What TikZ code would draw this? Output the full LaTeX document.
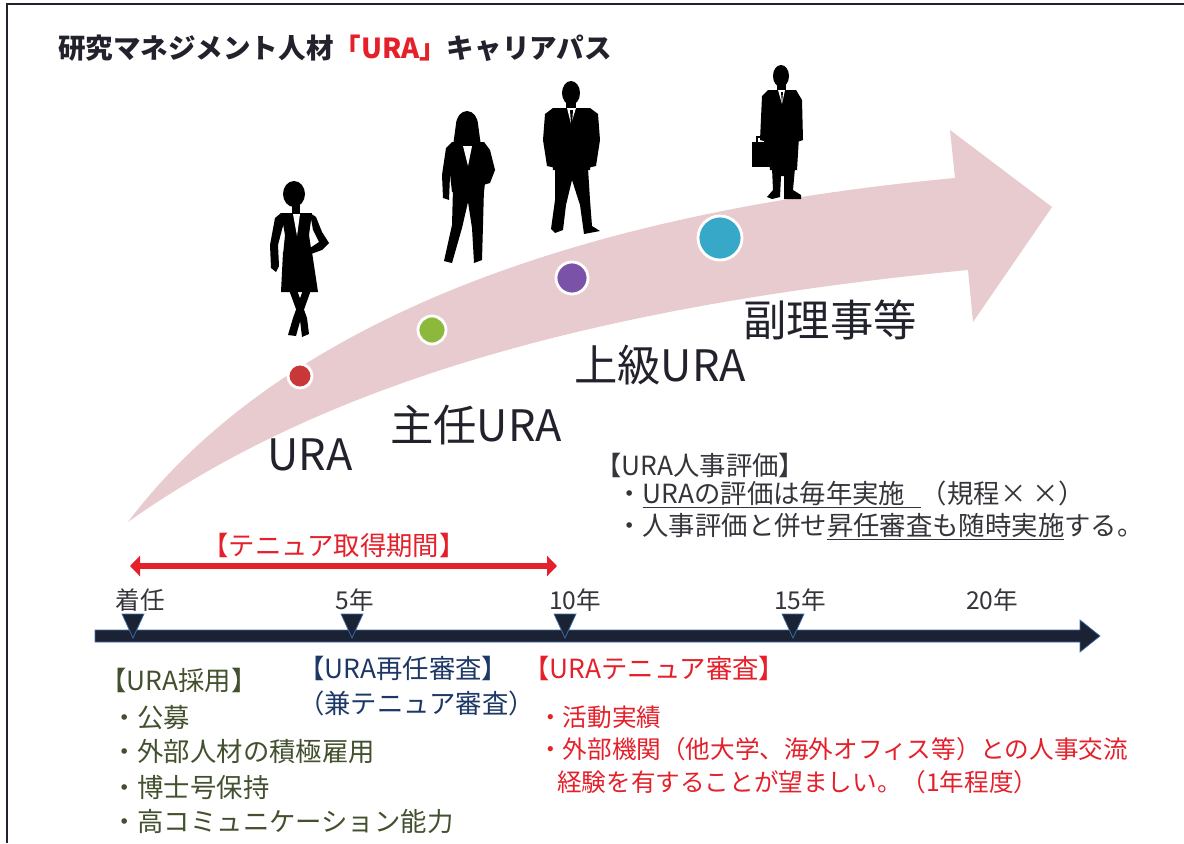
\documentclass[tikz,border=0pt]{standalone}
\usepackage{fontspec}
\setmainfont{Noto Sans CJK JP}
\usepackage{xcolor}
\usepackage{tikz}
\usetikzlibrary{arrows.meta, positioning}

\definecolor{inkdark}{RGB}{34,34,44}
\definecolor{inkgray}{RGB}{52,52,58}
\definecolor{tenurered}{RGB}{228,32,42}
\definecolor{renewnavy}{RGB}{30,56,102}
\definecolor{hireolive}{RGB}{66,80,46}
\definecolor{bandpink}{RGB}{231,203,207}
\definecolor{barnavy}{RGB}{26,34,52}
\definecolor{barblue}{RGB}{62,112,172}
\definecolor{dotred}{RGB}{200,56,56}
\definecolor{dotgreen}{RGB}{140,184,60}
\definecolor{dotpurple}{RGB}{122,82,168}
\definecolor{dotcyan}{RGB}{56,168,200}

\begin{document}
\begin{tikzpicture}[x=0.03cm, y=-0.03cm,
    stagelabel/.style={font=\fontsize{37}{40}\selectfont, text=inkdark, inner sep=0pt},
    bodytext/.style={font=\fontsize{22.5}{26}\selectfont, inner sep=0pt, anchor=west},
    smalltext/.style={font=\fontsize{21}{25}\selectfont, inner sep=0pt, anchor=west},
    yearlabel/.style={font=\fontsize{21}{25}\selectfont, text=inkgray, inner sep=0pt},
    stagedot/.style={circle, draw=white, line width=2.4pt, inner sep=0pt},
    marker/.style={fill=barnavy, draw=barblue, line width=0.6pt}]
    \useasboundingbox (0,0) rectangle (1184,843);

    % Frame edges (top and left only)
    \draw[inkdark, line width=0.9pt] (1184,4) -- (7,4) -- (7,843);

    % Title
    \node[anchor=west, inner sep=0pt, text=inkdark,
          font=\bfseries\fontsize{23.5}{26}\selectfont] (title) at (58,48)
        {研究マネジメント人材\textcolor{tenurered}{「URA」}キャリアパス};

    % Curved career arrow
    \fill[bandpink] (128,522) .. controls (250,360) and (500,220) .. (955,178)
        -- (950,130) -- (1052,207) -- (973,322) -- (968,270)
        .. controls (550,310) and (300,400) .. (128,522) -- cycle;

    % Stage dots
    \node[stagedot, fill=dotred, minimum size=0.72cm] (ura) at (300,376) {};
    \node[stagedot, fill=dotgreen, minimum size=0.84cm] (chief) at (432,330) {};
    \node[stagedot, fill=dotpurple, minimum size=0.96cm] (senior) at (572,278) {};
    \node[stagedot, fill=dotcyan, minimum size=1.32cm] (vice) at (720,238) {};

    % Stage names
    \node[stagelabel] (uralab) at (310,455) {URA};
    \node[stagelabel] (chieflab) at (476,425) {主任URA};
    \node[stagelabel] (seniorlab) at (660,365) {上級URA};
    \node[stagelabel] (vicelab) at (830,320) {副理事等};

    % Figure 1: woman in skirt suit, hand on hip
    \fill (294,194) ellipse (11 and 13);
    \fill (292,204) rectangle (300,215);
    \fill (281,213) -- (312,213) -- (309,235) -- (312,255) -- (283,255) -- (285,235) -- cycle;
    \fill (281,213) -- (275,218) -- (270,245) -- (271,268) -- (276,272) -- (279,266) -- (278,245) -- (284,222) -- cycle;
    \fill (310,213) -- (316,217) -- (322,232) -- (329,243) -- (322,250) -- (311,254) -- (310,248) -- (319,242) -- (313,230) -- cycle;
    \fill (283,252) -- (312,252) -- (318,292) -- (281,292) -- cycle;
    \fill (289,290) -- (297,290) -- (307,318) -- (309,334) -- (302,337) -- (300,320) -- cycle;
    \fill (303,290) -- (311,290) -- (301,318) -- (296,336) -- (288,335) -- (293,318) -- cycle;
    \fill[white] (293,214) -- (300,214) -- (297,236) -- cycle;

    % Figure 2: woman in trouser suit, hair to the shoulders
    \fill (467,125) ellipse (11 and 14);
    \fill (456,124) -- (478,124) -- (481,146) -- (453,146) -- cycle;
    \fill (452,142) -- (484,142) -- (487,165) -- (484,192) -- (452,192) -- (449,165) -- cycle;
    \fill (452,142) -- (446,148) -- (442,175) -- (443,198) -- (449,200) -- (450,176) -- (455,150) -- cycle;
    \fill (484,142) -- (490,150) -- (495,170) -- (490,183) -- (483,185) -- (486,172) -- (482,152) -- cycle;
    \fill (453,188) -- (484,188) -- (483,225) -- (482,260) -- (474,263) -- (472,228) -- (468,202)
        -- (462,228) -- (452,263) -- (444,261) -- (452,225) -- cycle;
    \fill[white] (463,146) -- (472,146) -- (468,166) -- cycle;

    % Figure 3: man standing
    \fill (571,93) ellipse (9 and 12);
    \fill (566,102) rectangle (576,110);
    \fill (553,108) -- (590,108) -- (593,140) -- (590,170) -- (553,170) -- (550,140) -- cycle;
    \fill (553,108) -- (545,114) -- (543,140) -- (547,166) -- (556,168) -- (556,140) -- cycle;
    \fill (590,108) -- (598,114) -- (600,140) -- (596,166) -- (587,168) -- (587,140) -- cycle;
    \fill (555,168) -- (588,168) -- (590,200) -- (592,226) -- (600,231) -- (584,234) -- (580,205)
        -- (572,180) -- (566,205) -- (563,230) -- (555,233) -- (551,229) -- (555,200) -- cycle;
    \fill[white] (567,108) -- (576,108) -- (571,124) -- cycle;
    \fill (570,110) -- (573,110) -- (572,124) -- (571,124) -- cycle;

    % Figure 4: man with briefcase
    \fill (781,76) ellipse (8 and 11);
    \fill (777,84) rectangle (786,92);
    \fill (768,90) -- (796,90) -- (800,120) -- (797,170) -- (770,170) -- (765,120) -- cycle;
    \fill (768,90) -- (762,96) -- (760,140) -- (767,142) -- (770,110) -- cycle;
    \fill (796,90) -- (802,100) -- (803,140) -- (797,142) -- cycle;
    \fill (752,142) rectangle (770,167);
    \draw[line width=1.2pt] (757,142) -- (757,137) -- (765,137) -- (765,142);
    \fill (772,168) -- (795,168) -- (793,190) -- (801,195) -- (801,199) -- (784,199) -- (784,176)
        -- (781,176) -- (780,197) -- (772,199) -- (767,197) -- (773,190) -- cycle;
    \fill[white] (778,90) -- (785,90) -- (782,104) -- cycle;
    \fill (781,92) -- (783,92) -- (782,104) -- cycle;

    % Personnel evaluation note
    \node[bodytext, text=inkgray] (evalhead) at (595,465) {【URA人事評価】};
    \node[bodytext, text=inkgray] (evalone) at (616,494)
        {・\underline{URAの評価は毎年実施\hspace{0.6em}}（規程× ×）};
    \node[bodytext, text=inkgray] (evaltwo) at (616,527)
        {・人事評価と併せ\underline{昇任審査も随時実施}する。};

    % Tenure period
    \coordinate (tenstart) at (130,566);
    \coordinate (tenend) at (557,566);
    \draw[tenurered, line width=5pt,
          {Triangle[length=0.3cm, width=0.6cm]}-{Triangle[length=0.3cm, width=0.6cm]}]
        (tenstart) -- (tenend);
    \node[font=\fontsize{22.5}{26}\selectfont, text=tenurered, inner sep=0pt] (tenlab) at (334,545)
        {【テニュア取得期間】};

    % Timeline
    \coordinate (tstart) at (95,636);
    \coordinate (tend) at (1100,636);
    \filldraw[marker] (tstart) ++(0,-6) -- ++(985,0) -- ++(0,-10) -- (tend) -- ++(-20,16)
        -- ++(0,-10) -- ++(-985,0) -- cycle;
    \foreach \x in {133,352,565,793}
        \filldraw[marker] (\x-11,614) -- (\x+11,614) -- (\x,638) -- cycle;
    \foreach \x/\lab/\nm in {140/着任/ystart, 355/5年/yfive, 575/10年/yten, 800/15年/yfifteen, 992/20年/ytwenty}
        \node[yearlabel] (\nm) at (\x,600) {\lab};

    % Hiring
    \node[bodytext, text=hireolive] (hirehead) at (100,680) {【URA採用】};
    \node[bodytext, text=hireolive] (hireone) at (111,718) {・公募};
    \node[bodytext, text=hireolive] (hiretwo) at (111,752) {・外部人材の積極雇用};
    \node[bodytext, text=hireolive] (hirethree) at (111,787) {・博士号保持};
    \node[bodytext, text=hireolive] (hirefour) at (111,822) {・高コミュニケーション能力};

    % Reappointment review
    \node[bodytext, text=renewnavy] (renewhead) at (298,668) {【URA再任審査】};
    \node[bodytext, text=renewnavy] (renewsub) at (298,703) {（兼テニュア審査）};

    % Tenure review
    \node[bodytext, text=tenurered] (tenhead) at (523,668) {【URAテニュア審査】};
    \node[smalltext, text=tenurered] (tenone) at (538,717) {・活動実績};
    \node[smalltext, text=tenurered] (tentwo) at (538,749) {・外部機関（他大学、海外オフィス等）との人事交流};
    \node[smalltext, text=tenurered] (tenthree) at (557,782) {経験を有することが望ましい。（1年程度）};
\end{tikzpicture}
\end{document}
